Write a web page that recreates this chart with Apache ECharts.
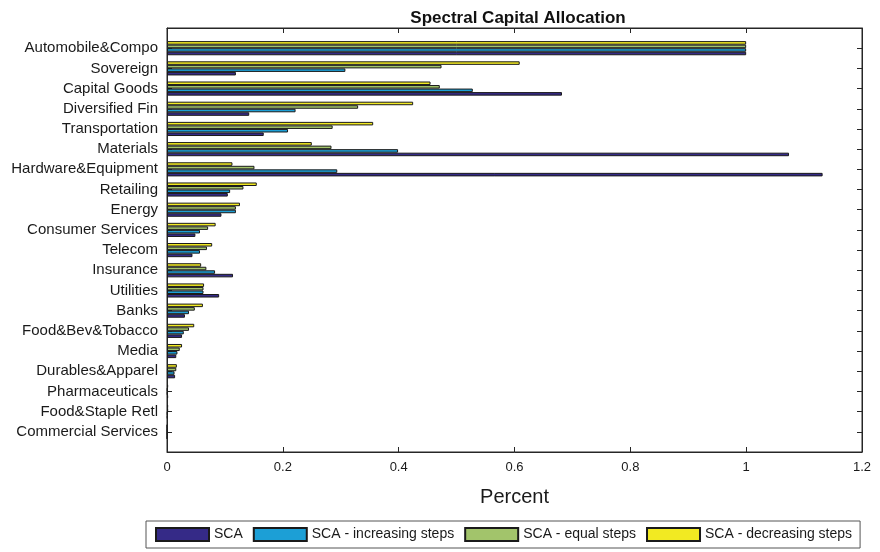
<!DOCTYPE html>
<html>
<head>
<meta charset="utf-8">
<script src="https://cdn.jsdelivr.net/npm/echarts@6/dist/echarts.min.js"></script>
<style>
  html, body { margin: 0; padding: 0; background: #fff; }
  #chart { width: 880px; height: 552px; }
</style>
</head>
<body>
<div id="chart"></div>
<script>
const categories = [
  'Automobile&Compo', 'Sovereign', 'Capital Goods', 'Diversified Fin', 'Transportation',
  'Materials', 'Hardware&Equipment', 'Retailing', 'Energy', 'Consumer Services',
  'Telecom', 'Insurance', 'Utilities', 'Banks', 'Food&Bev&Tobacco',
  'Media', 'Durables&Apparel', 'Pharmaceuticals', 'Food&Staple Retl', 'Commercial Services'
]
const seriesNames = ['SCA', 'SCA - increasing steps', 'SCA - equal steps', 'SCA - decreasing steps']
const scaValues = [1, 0.119, 0.682, 0.142, 0.167, 1.074, 1.132, 0.105, 0.094, 0.049,
  0.044, 0.114, 0.090, 0.031, 0.026, 0.016, 0.014, 0.002, 0.001, 0]
const increasingValues = [1, 0.308, 0.528, 0.222, 0.209, 0.399, 0.294, 0.109, 0.119, 0.057,
  0.057, 0.083, 0.063, 0.038, 0.029, 0.018, 0.013, 0.001, 0.001, 0]
const equalValues = [1, 0.474, 0.471, 0.330, 0.286, 0.284, 0.151, 0.132, 0.119, 0.071,
  0.069, 0.068, 0.063, 0.048, 0.038, 0.022, 0.016, 0.001, 0.002, 0]
const decreasingValues = [1, 0.609, 0.455, 0.425, 0.356, 0.250, 0.113, 0.155, 0.126, 0.084,
  0.078, 0.059, 0.064, 0.062, 0.047, 0.026, 0.017, 0.002, 0.002, 0]
const xTicks = [0, 0.2, 0.4, 0.6, 0.8, 1, 1.2]

const colors = ['#352a87', '#1c9fd6', '#a2c46b', '#f2ea22']
const font = '"Liberation Sans", Arial, sans-serif'

// blank slots at both ends give the MATLAB-style padding of one full step
const yData = [''].concat(categories, [''])
const pad = v => ['-'].concat(v, ['-'])

const chart = echarts.init(document.getElementById('chart'))

const catAxis = (pos, showLabel) => ({
  type: 'category',
  position: pos,
  inverse: true,
  boundaryGap: false,
  data: yData,
  axisLine: { show: true, onZero: false, lineStyle: { color: '#262626', width: 1 } },
  axisTick: { show: true, inside: true, length: 5, lineStyle: { color: '#262626' } },
  axisLabel: {
    show: showLabel, margin: 9, interval: 0,
    color: '#1a1a1a', fontSize: 15, fontFamily: font
  },
  splitLine: { show: false }
})

const valAxis = (pos, showLabel) => ({
  type: 'value',
  position: pos,
  min: xTicks[0],
  max: xTicks[xTicks.length - 1],
  interval: 0.2,
  name: showLabel ? 'Percent' : '',
  nameLocation: 'middle',
  nameGap: 35,
  nameTextStyle: { fontSize: 20, color: '#1a1a1a', fontFamily: font },
  axisLine: { show: true, onZero: false, lineStyle: { color: '#262626', width: 1 } },
  axisTick: { show: true, inside: true, length: 5, lineStyle: { color: '#262626' } },
  axisLabel: {
    show: showLabel, margin: 9,
    color: '#1a1a1a', fontSize: 13, fontFamily: font,
    formatter: v => String(+v.toFixed(1))
  },
  splitLine: { show: false }
})

const values = [scaValues, increasingValues, equalValues, decreasingValues]

// drawn in reverse so the yellow bar sits on top of each group, as in the source
const series = seriesNames.map((name, i) => ({
  name: name,
  type: 'bar',
  data: pad(values[i]),
  barGap: '0%',
  barCategoryGap: '30%',
  itemStyle: { color: colors[i], borderColor: '#1a1a1a', borderWidth: 1 }
})).reverse()

const option = {
  animation: false,
  backgroundColor: '#fff',
  title: {
    text: 'Spectral Capital Allocation',
    left: 513,
    textAlign: 'center',
    top: 5,
    textStyle: { fontSize: 17, fontWeight: 'bold', color: '#111', fontFamily: font }
  },
  legend: {
    data: seriesNames,
    left: 146,
    top: 521,
    orient: 'horizontal',
    icon: 'rect',
    itemWidth: 53,
    itemHeight: 13,
    itemGap: 10,
    padding: [6, 8, 6, 9],
    borderColor: '#555',
    borderWidth: 1,
    textStyle: { fontSize: 14, color: '#1a1a1a', fontFamily: font }
  },
  grid: {
    left: 167,
    right: 18,
    top: 28,
    bottom: 100,
    show: true,
    borderColor: '#262626',
    borderWidth: 1
  },
  xAxis: [valAxis('bottom', true), valAxis('top', false)],
  yAxis: [catAxis('left', true), catAxis('right', false)],
  series: series
}

chart.setOption(option)
</script>
</body>
</html>
